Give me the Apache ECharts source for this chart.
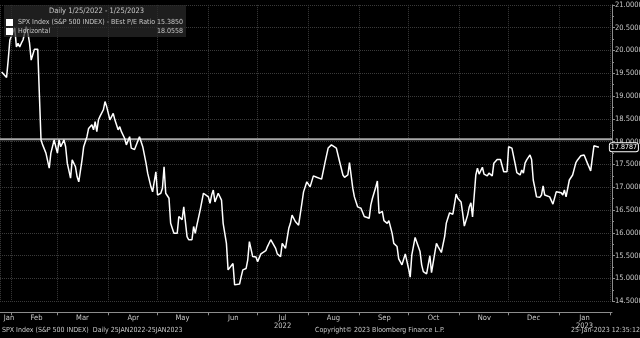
<!DOCTYPE html>
<html><head><meta charset="utf-8">
<script src="https://cdn.jsdelivr.net/npm/echarts@6/dist/echarts.min.js"></script>
<style>html,body{margin:0;padding:0;background:#000;}#c{width:640px;height:338px;}</style>
</head><body><div id="c"></div>
<script>
const dates = [
'2022-01-26','2022-01-29','2022-01-30','2022-01-31',
'2022-02-02','2022-02-03','2022-02-04','2022-02-05','2022-02-06','2022-02-07','2022-02-08','2022-02-10','2022-02-11','2022-02-12','2022-02-13','2022-02-14','2022-02-15','2022-02-17','2022-02-18','2022-02-19','2022-02-20','2022-02-21','2022-02-22','2022-02-24','2022-02-25','2022-02-27','2022-02-28',
'2022-03-01','2022-03-02','2022-03-03','2022-03-05','2022-03-06','2022-03-07','2022-03-09','2022-03-10','2022-03-12','2022-03-13','2022-03-14','2022-03-16','2022-03-17','2022-03-19','2022-03-20','2022-03-21','2022-03-22','2022-03-23','2022-03-24','2022-03-25','2022-03-26','2022-03-27','2022-03-29','2022-03-30','2022-03-31',
'2022-04-02','2022-04-03','2022-04-04','2022-04-05','2022-04-07','2022-04-08','2022-04-09','2022-04-11','2022-04-12','2022-04-13','2022-04-14','2022-04-15','2022-04-17','2022-04-18','2022-04-20','2022-04-21','2022-04-22','2022-04-24','2022-04-25','2022-04-26','2022-04-27','2022-04-28','2022-04-29','2022-04-30',
'2022-05-01','2022-05-02','2022-05-03','2022-05-04','2022-05-05','2022-05-06','2022-05-08','2022-05-09','2022-05-10','2022-05-11','2022-05-13','2022-05-14','2022-05-16','2022-05-17','2022-05-19','2022-05-20','2022-05-22','2022-05-23','2022-05-24','2022-05-25','2022-05-27','2022-05-29','2022-05-30',
'2022-06-01','2022-06-02','2022-06-03','2022-06-04','2022-06-05','2022-06-06','2022-06-07','2022-06-09','2022-06-10','2022-06-12','2022-06-13','2022-06-14','2022-06-16','2022-06-17','2022-06-18','2022-06-20','2022-06-21','2022-06-22','2022-06-24','2022-06-25','2022-06-26','2022-06-27','2022-06-28','2022-06-30',
'2022-07-01','2022-07-03','2022-07-04','2022-07-06','2022-07-07','2022-07-09','2022-07-10','2022-07-12','2022-07-13','2022-07-15','2022-07-16','2022-07-18','2022-07-20','2022-07-21','2022-07-22','2022-07-24','2022-07-25','2022-07-26','2022-07-28','2022-07-29','2022-07-31',
'2022-08-01','2022-08-02','2022-08-04','2022-08-06','2022-08-09','2022-08-11','2022-08-12','2022-08-13','2022-08-15','2022-08-16','2022-08-18','2022-08-19','2022-08-20','2022-08-22','2022-08-23','2022-08-25','2022-08-26','2022-08-28','2022-08-29','2022-08-31',
'2022-09-01','2022-09-02','2022-09-04','2022-09-05','2022-09-07','2022-09-08','2022-09-09','2022-09-11','2022-09-12','2022-09-13','2022-09-15','2022-09-16','2022-09-18','2022-09-19','2022-09-21','2022-09-22','2022-09-24','2022-09-25','2022-09-27','2022-09-28','2022-09-29',
'2022-10-01','2022-10-02','2022-10-03','2022-10-05','2022-10-06','2022-10-08','2022-10-09','2022-10-10','2022-10-12','2022-10-13','2022-10-14','2022-10-15','2022-10-17','2022-10-18','2022-10-19','2022-10-21','2022-10-23','2022-10-24','2022-10-26','2022-10-27','2022-10-28','2022-10-30','2022-10-31',
'2022-11-02','2022-11-03','2022-11-04','2022-11-06','2022-11-07','2022-11-08','2022-11-09','2022-11-11','2022-11-12','2022-11-13','2022-11-15','2022-11-16','2022-11-18','2022-11-19','2022-11-21','2022-11-22','2022-11-24','2022-11-26','2022-11-27','2022-11-28','2022-11-30',
'2022-12-01','2022-12-02','2022-12-03','2022-12-05','2022-12-06','2022-12-08','2022-12-09','2022-12-10','2022-12-11','2022-12-12','2022-12-14','2022-12-15','2022-12-16','2022-12-17','2022-12-18','2022-12-20','2022-12-21','2022-12-22','2022-12-23','2022-12-24','2022-12-26','2022-12-27','2022-12-28','2022-12-30','2022-12-31',
'2023-01-02','2023-01-03','2023-01-04','2023-01-05','2023-01-07','2023-01-08','2023-01-09','2023-01-11','2023-01-12','2023-01-14','2023-01-15','2023-01-16','2023-01-18','2023-01-20','2023-01-21','2023-01-22','2023-01-24','2023-01-25'
];
const peRatio = [
19.53,19.41,19.79,20.23,
20.41,20.49,20.08,20.16,20.08,20.16,20.23,20.52,20.38,20.16,19.79,19.75,20.03,20.03,20.03,18.04,17.93,17.89,17.75,17.42,17.75,18.04,17.89,
17.75,18.04,17.89,18.04,17.89,17.53,17.20,17.60,17.45,17.23,17.12,17.60,17.89,18.11,18.29,18.29,18.37,18.26,18.44,18.22,18.48,18.56,18.70,18.88,18.77,
18.48,18.51,18.62,18.48,18.26,18.33,18.22,18.07,17.93,17.89,18.11,17.86,17.83,17.83,18.11,18.07,17.89,17.53,17.31,17.34,17.01,16.90,17.12,17.34,
16.83,16.79,16.87,16.98,17.45,16.87,16.76,16.21,16.21,15.99,15.99,16.36,16.29,16.57,15.92,15.85,15.85,16.14,15.99,16.17,16.50,16.87,16.87,
16.79,16.65,16.83,16.94,16.68,16.72,16.87,16.72,16.21,15.77,15.19,15.15,15.33,14.86,14.88,14.88,15.04,15.19,15.22,15.41,15.81,15.77,15.48,15.47,
15.37,15.54,15.57,15.61,15.70,15.85,15.81,15.66,15.54,15.48,15.77,15.66,16.10,16.21,16.39,16.25,16.28,16.17,16.65,16.90,17.12,
17.10,17.01,17.25,17.22,17.18,17.53,17.54,17.86,17.93,17.95,17.86,17.88,17.56,17.27,17.22,17.27,17.54,16.98,16.79,16.57,
16.54,16.54,16.36,16.34,16.32,16.61,16.76,17.00,17.14,16.43,16.47,16.27,16.21,16.27,15.99,15.77,15.70,15.43,15.30,15.26,15.54,
15.22,15.03,15.52,15.90,15.86,15.59,15.30,15.15,15.10,15.08,15.50,15.13,15.56,15.77,15.70,15.57,15.92,16.21,16.44,16.43,16.41,16.85,16.76,
16.68,16.43,16.15,16.39,16.57,16.66,16.35,17.27,17.42,17.29,17.44,17.29,17.25,17.31,17.25,17.53,17.61,17.61,17.58,17.34,17.34,
17.89,17.88,17.86,17.51,17.32,17.27,17.38,17.31,17.53,17.60,17.71,17.61,17.16,16.98,16.79,16.78,16.83,17.03,16.83,16.87,16.79,16.76,16.63,16.90,16.88,
16.88,16.83,16.94,16.79,17.16,17.18,17.27,17.54,17.60,17.69,17.71,17.71,17.53,17.36,17.64,17.91,17.89,17.8787
];
const horizontalValue = 18.0558;
const seriesNames = ['SPX Index (S&P 500 INDEX) - BEst P/E Ratio', 'Horizontal'];
const legendValues = ['15.3850', '18.0558'];
const axisStart = '2022-01-25';
const axisEnd = '2023-02-02';
const monthNames = ['Jan','Feb','Mar','Apr','May','Jun','Jul','Aug','Sep','Oct','Nov','Dec'];
const yearLabels = { '2022-6': '2022', '2023-0': '2023' };
const lastMonthLabel = '2023-0';
const headerText = 'Daily 1/25/2022 - 1/25/2023';
const footerLeft = 'SPX Index (S&P 500 INDEX)  Daily 25JAN2022-25JAN2023';
const footerMid = 'Copyright\u00A9 2023 Bloomberg Finance L.P.';
const footerRight = '25-Jan-2023 12:35:12';

const F = "'Liberation Sans Narrow','DejaVu Sans Condensed','Arial Narrow','Liberation Sans',sans-serif";
const TXT = '#c8c8c8';
const AX = '#8c8c8c';
const fsAxis = 7.5, fsLegend = 7, fsFoot = 7;
const chart = echarts.init(document.getElementById('c'), null, {renderer: 'canvas'});

function txt(size) { return { color: TXT, fontFamily: F, fontSize: size, fontWeight: 'normal' }; }

const monthRich = {
  m: Object.assign(txt(fsAxis), { padding: [0, 0, 0, 50], lineHeight: 8 }),
  f: Object.assign(txt(fsAxis), { padding: [0, 0, 0, 18], lineHeight: 8 })
};

chart.setOption({
  backgroundColor: '#000',
  animation: false,
  grid: { left: 0, right: 28, top: 4.9, bottom: 36.7, containLabel: false, outerBoundsMode: 'none' },
  title: [
    { text: headerText, left: 49, top: 7, padding: 0, textStyle: txt(7.5) },
    { text: footerLeft, left: 2, top: 327, padding: 0, textStyle: txt(fsFoot) },
    { text: footerMid, left: 315, top: 327, padding: 0, textStyle: txt(fsFoot) },
    { text: footerRight, right: 0, top: 327, padding: 0, textStyle: txt(fsFoot) }
  ],
  legend: {
    orient: 'vertical', left: 4, top: 5, padding: [14, 3, 2, 2],
    itemWidth: 7, itemHeight: 7, itemGap: 2, icon: 'rect', selectedMode: false,
    backgroundColor: 'rgba(42,42,42,0.72)',
    data: seriesNames.map(n => ({ name: n, itemStyle: { color: '#fff' } })),
    formatter: function (name) { return '{n|' + name + '}{v|' + legendValues[seriesNames.indexOf(name)] + '}'; },
    textStyle: Object.assign(txt(fsLegend), {
      rich: {
        n: Object.assign(txt(fsLegend), { width: 140 }),
        v: Object.assign(txt(fsLegend), { width: 25, align: 'right' })
      }
    })
  },
  xAxis: [
    {
      type: 'time', min: axisStart, max: axisEnd, offset: 11, position: 'bottom', splitNumber: 12,
      minInterval: 28 * 864e5, maxInterval: 31 * 864e5,
      axisLine: { lineStyle: { color: AX } },
      axisTick: { show: true, length: 3, lineStyle: { color: AX } },
      splitLine: { show: true, lineStyle: { color: '#3a3a3a', type: 'dotted' } },
      axisLabel: {
        color: TXT, fontFamily: F, fontSize: fsAxis, margin: 2, hideOverlap: false,
        showMinLabel: false, showMaxLabel: false, align: 'center', lineHeight: 8,
        formatter: function (val) {
          const d = new Date(val);
          const y = d.getFullYear(), m = d.getMonth();
          if (d.getDate() !== 1) return '';
          const key = y + '-' + m;
          if (y > 2023 || (y === 2023 && key !== lastMonthLabel)) return '';
          let s = '{m|' + monthNames[m] + '}';
          if (yearLabels[key]) s += '\n{m|' + yearLabels[key] + '}';
          return s;
        },
        rich: monthRich
      }
    },
    {
      type: 'time', min: axisStart, max: axisEnd, offset: 11, position: 'bottom', splitNumber: 12,
      minInterval: 28 * 864e5, maxInterval: 31 * 864e5,
      axisLine: { show: false }, axisTick: { show: false }, splitLine: { show: false },
      axisLabel: {
        color: TXT, fontFamily: F, fontSize: fsAxis, margin: 2, hideOverlap: false,
        showMinLabel: true, showMaxLabel: false, align: 'center', lineHeight: 8,
        formatter: function (val, idx) {
          const d = new Date(val);
          if (idx === 0 && d.getMonth() === 0) return '{f|' + monthNames[0] + '}';
          return '';
        },
        rich: monthRich
      }
    }
  ],
  yAxis: {
    type: 'value', position: 'right', min: 14.5, max: 21, interval: 0.5,
    axisLine: { show: true, lineStyle: { color: AX } },
    axisTick: { show: true, length: 3, lineStyle: { color: AX } },
    minorTick: { show: true, splitNumber: 2, length: 2, lineStyle: { color: AX } },
    splitLine: { show: true, lineStyle: { color: '#3a3a3a', type: 'dotted' } },
    axisLabel: { color: TXT, fontFamily: F, fontSize: fsAxis, margin: 3, formatter: v => v.toFixed(4) }
  },
  series: [
    {
      name: seriesNames[0], type: 'line', symbol: 'none', showSymbol: false, z: 3,
      data: dates.map((d, i) => [d, peRatio[i]]),
      lineStyle: { color: '#ffffff', width: 1.5 }, itemStyle: { color: '#ffffff' },
      endLabel: {
        show: true, distance: 11,
        formatter: p => p.value[1].toFixed(4),
        color: '#fff', fontFamily: F, fontSize: 7, backgroundColor: '#000',
        borderColor: '#fff', borderWidth: 1, borderRadius: 2, padding: [1, 1, 0, 1]
      }
    },
    {
      name: seriesNames[1], type: 'line', symbol: 'none', showSymbol: false, z: 2,
      data: [[axisStart, horizontalValue], [axisEnd, horizontalValue]],
      lineStyle: { color: '#a8a8a8', width: 2 }, itemStyle: { color: '#a8a8a8' }
    }
  ]
});
</script></body></html>
